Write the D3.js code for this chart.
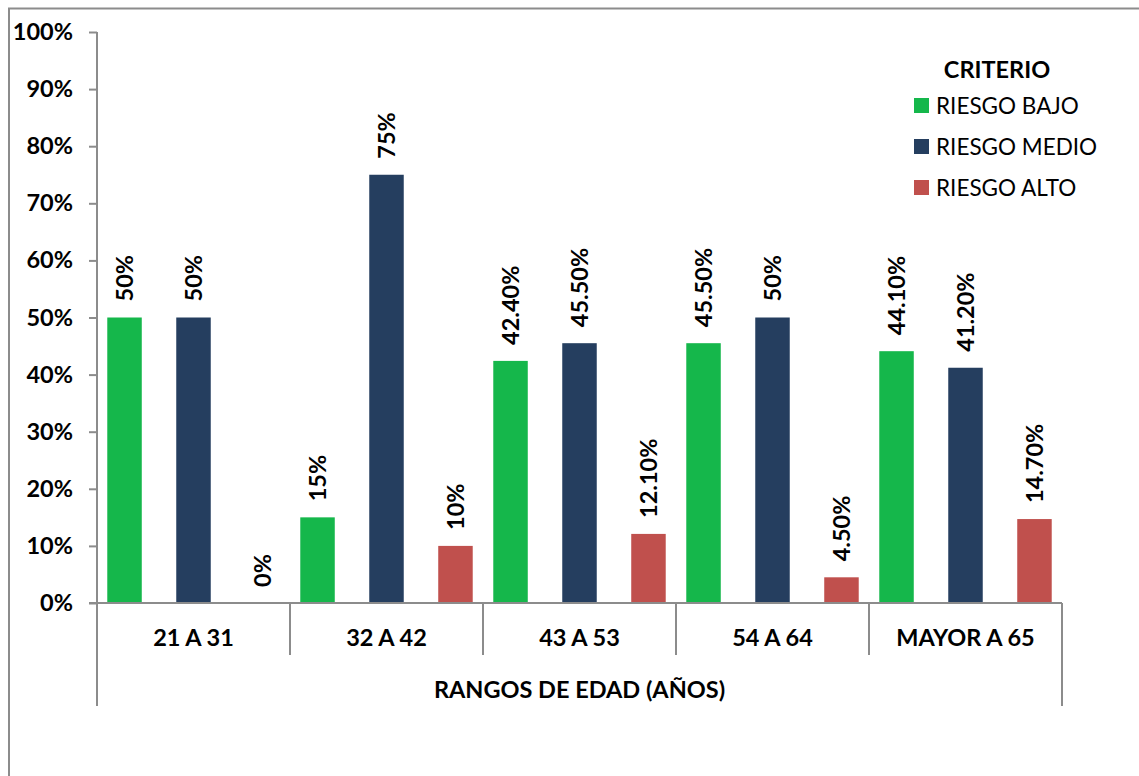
<!DOCTYPE html>
<html>
<head>
<meta charset="utf-8">
<script src="https://cdn.jsdelivr.net/npm/d3@7"></script>
<style>
  html, body { margin: 0; padding: 0; background: #ffffff; }
  svg { display: block; }
  text { font-family: Lato, "Open Sans", sans-serif; fill: #000; }
</style>
</head>
<body>
<svg id="chart" width="1139" height="776"></svg>
<script>
// Age ranges on the category axis
const categories = ["21 A 31", "32 A 42", "43 A 53", "54 A 64", "MAYOR A 65"];
// Risk criteria (series)
const seriesNames = ["RIESGO BAJO", "RIESGO MEDIO", "RIESGO ALTO"];
// Percent values per series, one per age range
const riesgoBajo  = [50, 15, 42.4, 45.5, 44.1];
const riesgoMedio = [50, 75, 45.5, 50, 41.2];
const riesgoAlto  = [0, 10, 12.1, 4.5, 14.7];
// Data labels as printed above each bar
const bajoLabels  = ["50%", "15%", "42.40%", "45.50%", "44.10%"];
const medioLabels = ["50%", "75%", "45.50%", "50%", "41.20%"];
const altoLabels  = ["0%", "10%", "12.10%", "4.50%", "14.70%"];
// Value-axis ticks
const yTicks = [0, 10, 20, 30, 40, 50, 60, 70, 80, 90, 100];
const colors = ["#15b74b", "#253e5f", "#c0504d"];
const legendTitle = "CRITERIO";
const axisTitle = "RANGOS DE EDAD (AÑOS)";

const seriesValues = [riesgoBajo, riesgoMedio, riesgoAlto];
const seriesLabels = [bajoLabels, medioLabels, altoLabels];

const svg = d3.select("#chart");
const axisColor = "#8c8c8c";
const boldSize = 23.5;

// Outer chart frame (top and left edges visible)
svg.append("path")
  .attr("d", "M9,1000 L9,8.5 L1200,8.5")
  .attr("fill", "none").attr("stroke", axisColor).attr("stroke-width", 2);

const plot = { left: 97, right: 1062, top: 32, bottom: 603 };

const x0 = d3.scaleBand().domain(categories).range([plot.left, plot.right]).padding(0);
const x1 = d3.scaleBand().domain(seriesNames).range([0, x0.bandwidth()])
  .paddingInner(0.5).paddingOuter(0.149);
const y = d3.scaleLinear().domain([0, 100]).range([plot.bottom, plot.top]);

// Value axis
const yAxis = d3.axisLeft(y).tickValues(yTicks).tickSize(8).tickPadding(16)
  .tickFormat(d => d + "%");
const gy = svg.append("g").attr("transform", `translate(${plot.left},0)`).call(yAxis);
gy.select(".domain").remove();
gy.selectAll(".tick line").attr("stroke", axisColor).attr("stroke-width", 2);
gy.selectAll(".tick text").attr("font-size", boldSize).attr("font-weight", 700)
  .attr("fill", "#000").style("font-family", "Lato, sans-serif");
svg.append("line")
  .attr("x1", plot.left).attr("x2", plot.left)
  .attr("y1", y(100)).attr("y2", 706)
  .attr("stroke", axisColor).attr("stroke-width", 2);

// Bars
const groups = svg.append("g").selectAll("g")
  .data(categories).join("g")
  .attr("transform", d => `translate(${x0(d)},0)`);

seriesNames.forEach((s, si) => {
  groups.append("rect")
    .attr("x", x1(s))
    .attr("width", x1.bandwidth())
    .attr("y", (d, i) => y(seriesValues[si][i]))
    .attr("height", (d, i) => y(0) - y(seriesValues[si][i]))
    .attr("fill", colors[si]);
  groups.append("text")
    .attr("transform", (d, i) =>
      `translate(${x1(s) + x1.bandwidth() / 2},${y(seriesValues[si][i]) - 16}) rotate(-90)`)
    .attr("dy", "0.36em")
    .attr("font-size", boldSize).attr("font-weight", 700)
    .text((d, i) => seriesLabels[si][i]);
});

// Category axis with group separators
svg.append("line")
  .attr("x1", plot.left - 8).attr("x2", plot.right)
  .attr("y1", plot.bottom).attr("y2", plot.bottom)
  .attr("stroke", axisColor).attr("stroke-width", 2);
const sepX = categories.slice(1).map(c => x0(c));
svg.append("g").selectAll("line").data(sepX).join("line")
  .attr("x1", d => d).attr("x2", d => d)
  .attr("y1", plot.bottom).attr("y2", 655)
  .attr("stroke", axisColor).attr("stroke-width", 2);
svg.append("line")
  .attr("x1", plot.right).attr("x2", plot.right)
  .attr("y1", plot.bottom).attr("y2", 706)
  .attr("stroke", axisColor).attr("stroke-width", 2);

svg.append("g").selectAll("text").data(categories).join("text")
  .attr("x", d => x0(d) + x0.bandwidth() / 2)
  .attr("y", 646)
  .attr("text-anchor", "middle")
  .attr("font-size", boldSize).attr("font-weight", 700)
  .text(d => d);

svg.append("text")
  .attr("x", (plot.left + plot.right) / 2).attr("y", 698)
  .attr("text-anchor", "middle")
  .attr("font-size", boldSize).attr("font-weight", 700)
  .text(axisTitle);

// Legend
const legend = svg.append("g");
legend.append("text")
  .attr("x", 997).attr("y", 78)
  .attr("text-anchor", "middle")
  .attr("font-size", boldSize).attr("font-weight", 700)
  .text(legendTitle);
const items = legend.selectAll("g.item").data(seriesNames).join("g")
  .attr("class", "item")
  .attr("transform", (d, i) => `translate(914,${98 + i * 41})`);
items.append("rect").attr("width", 15).attr("height", 15)
  .attr("fill", (d, i) => colors[i]);
items.append("text").attr("x", 22).attr("y", 15.5)
  .attr("font-size", 22.5)
  .text(d => d);
</script>
</body>
</html>
